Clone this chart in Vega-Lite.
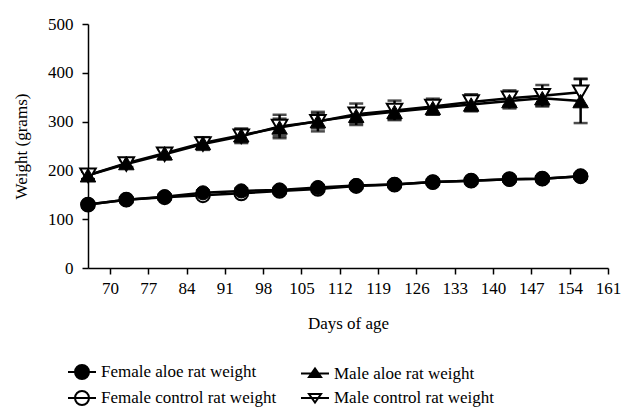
{
"$schema": "https://vega.github.io/schema/vega-lite/v6.json",
"width": 520, "height": 244,
"autosize": "none",
"padding": {"left": 88, "top": 24, "right": 16, "bottom": 143},
"config": {
  "view": {"stroke": null},
  "font": "Liberation Serif",
  "axis": {"grid": false, "domainColor": "black", "domainWidth": 1.5, "tickColor": "black", "tickWidth": 1.5, "tickSize": 6,
    "labelFont": "Liberation Serif", "labelFontSize": 17, "labelColor": "black", "labelOverlap": false, "labelFlush": false,
    "titleFont": "Liberation Serif", "titleFontSize": 17, "titleFontWeight": "normal", "titleColor": "black"},
  "legend": {"labelFont": "Liberation Serif", "labelFontSize": 17, "labelColor": "black", "labelLimit": 400}
},
"data": {"values": [
{"day":66,"group":"Female aloe rat weight","w":130,"err":5},
{"day":73,"group":"Female aloe rat weight","w":140,"err":5},
{"day":80,"group":"Female aloe rat weight","w":146,"err":5},
{"day":87,"group":"Female aloe rat weight","w":154,"err":5},
{"day":94,"group":"Female aloe rat weight","w":158,"err":5},
{"day":101,"group":"Female aloe rat weight","w":160,"err":5},
{"day":108,"group":"Female aloe rat weight","w":165,"err":5},
{"day":115,"group":"Female aloe rat weight","w":169,"err":5},
{"day":122,"group":"Female aloe rat weight","w":171,"err":5},
{"day":129,"group":"Female aloe rat weight","w":176,"err":5},
{"day":136,"group":"Female aloe rat weight","w":179,"err":5},
{"day":143,"group":"Female aloe rat weight","w":182,"err":5},
{"day":149,"group":"Female aloe rat weight","w":183,"err":5},
{"day":156,"group":"Female aloe rat weight","w":188,"err":5},
{"day":66,"group":"Female control rat weight","w":130,"err":5},
{"day":73,"group":"Female control rat weight","w":140,"err":5},
{"day":80,"group":"Female control rat weight","w":145,"err":5},
{"day":87,"group":"Female control rat weight","w":149,"err":5},
{"day":94,"group":"Female control rat weight","w":153,"err":5},
{"day":101,"group":"Female control rat weight","w":158,"err":5},
{"day":108,"group":"Female control rat weight","w":162,"err":5},
{"day":115,"group":"Female control rat weight","w":168,"err":5},
{"day":122,"group":"Female control rat weight","w":171,"err":5},
{"day":129,"group":"Female control rat weight","w":176,"err":5},
{"day":136,"group":"Female control rat weight","w":179,"err":5},
{"day":143,"group":"Female control rat weight","w":182,"err":5},
{"day":149,"group":"Female control rat weight","w":183,"err":5},
{"day":156,"group":"Female control rat weight","w":188,"err":5},
{"day":66,"group":"Male aloe rat weight","w":190,"err":8},
{"day":73,"group":"Male aloe rat weight","w":215,"err":8},
{"day":80,"group":"Male aloe rat weight","w":235,"err":10},
{"day":87,"group":"Male aloe rat weight","w":256,"err":12},
{"day":94,"group":"Male aloe rat weight","w":272,"err":14},
{"day":101,"group":"Male aloe rat weight","w":288,"err":18},
{"day":108,"group":"Male aloe rat weight","w":301,"err":15},
{"day":115,"group":"Male aloe rat weight","w":312,"err":15},
{"day":122,"group":"Male aloe rat weight","w":320,"err":15},
{"day":129,"group":"Male aloe rat weight","w":328,"err":14},
{"day":136,"group":"Male aloe rat weight","w":335,"err":14},
{"day":143,"group":"Male aloe rat weight","w":342,"err":15},
{"day":149,"group":"Male aloe rat weight","w":348,"err":15},
{"day":156,"group":"Male aloe rat weight","w":342,"err":45},
{"day":66,"group":"Male control rat weight","w":190,"err":8},
{"day":73,"group":"Male control rat weight","w":213,"err":8},
{"day":80,"group":"Male control rat weight","w":233,"err":10},
{"day":87,"group":"Male control rat weight","w":254,"err":12},
{"day":94,"group":"Male control rat weight","w":270,"err":14},
{"day":101,"group":"Male control rat weight","w":290,"err":24},
{"day":108,"group":"Male control rat weight","w":300,"err":20},
{"day":115,"group":"Male control rat weight","w":315,"err":22},
{"day":122,"group":"Male control rat weight","w":323,"err":20},
{"day":129,"group":"Male control rat weight","w":331,"err":16},
{"day":136,"group":"Male control rat weight","w":340,"err":16},
{"day":143,"group":"Male control rat weight","w":348,"err":16},
{"day":149,"group":"Male control rat weight","w":353,"err":22},
{"day":156,"group":"Male control rat weight","w":360,"err":28}
]},
"encoding": {
  "x": {"field": "day", "type": "quantitative", "scale": {"domain": [66, 161], "nice": false, "zero": false},
    "axis": {"values": [70,77,84,91,98,105,112,119,126,133,140,147,154,161], "title": "Days of age", "labelPadding": 6, "titlePadding": 19}},
  "y": {"field": "w", "type": "quantitative", "scale": {"domain": [0, 500], "nice": false},
    "axis": {"values": [0,100,200,300,400,500], "title": "Weight (grams)", "labelPadding": 9, "titlePadding": 17}}
},
"layer": [
  {
    "mark": {"type": "point", "opacity": 0, "filled": true, "strokeWidth": 2},
    "encoding": {
      "shape": {"field": "group", "type": "nominal",
        "scale": {"domain": ["Female aloe rat weight","Female control rat weight","Male aloe rat weight","Male control rat weight"],
          "range": ["M-1.4,0H1.4M-0.7,0A0.7,0.7,0,1,1,0.7,0A0.7,0.7,0,1,1,-0.7,0Z",
                    "M-1.4,0H1.4M-0.7,0A0.7,0.7,0,1,1,0.7,0A0.7,0.7,0,1,1,-0.7,0Z",
                    "M-1.4,0H1.4M-0.6,0.35L0.6,0.35L0,-0.5Z",
                    "M-1.4,0H1.4M-0.6,-0.4L0.6,-0.4L0,0.45Z"]},
        "legend": {"title": null, "orient": "none", "legendX": -17, "legendY": 337, "columns": 2, "columnPadding": 20, "rowPadding": 4,
          "symbolSize": 400, "labelOffset": 8, "symbolOpacity": 1, "symbolStrokeWidth": 2, "padding": 0}},
      "fill": {"field": "group", "type": "nominal",
        "scale": {"domain": ["Female aloe rat weight","Female control rat weight","Male aloe rat weight","Male control rat weight"],
          "range": ["black","white","black","white"]},
        "legend": {"title": null, "orient": "none", "legendX": -17, "legendY": 337, "columns": 2, "columnPadding": 20, "rowPadding": 4,
          "symbolSize": 400, "labelOffset": 8, "symbolOpacity": 1, "symbolStrokeWidth": 2, "padding": 0}},
      "stroke": {"field": "group", "type": "nominal",
        "scale": {"domain": ["Female aloe rat weight","Female control rat weight","Male aloe rat weight","Male control rat weight"],
          "range": ["black","black","black","black"]},
        "legend": {"title": null, "orient": "none", "legendX": -17, "legendY": 337, "columns": 2, "columnPadding": 20, "rowPadding": 4,
          "symbolSize": 400, "labelOffset": 8, "symbolOpacity": 1, "symbolStrokeWidth": 2, "padding": 0}}
    }
  },
  {
    "mark": {"type": "errorbar", "color": "black", "thickness": 2.5, "ticks": {"size": 14, "thickness": 2.5, "color": "black"}},
    "encoding": {
      "yError": {"field": "err"},
      "detail": {"field": "group"}
    }
  },
  {
    "mark": {"type": "line", "color": "black", "strokeWidth": 2.5},
    "encoding": {
      "detail": {"field": "group"}
    }
  },
  {
    "transform": [{"filter": "datum.group === 'Female control rat weight'"}],
    "mark": {"type": "point", "shape": "circle", "filled": true, "fill": "white", "stroke": "black", "strokeWidth": 2, "opacity": 1, "size": 190},
    "encoding": {}
  },
  {
    "transform": [{"filter": "datum.group === 'Male control rat weight'"}],
    "mark": {"type": "point", "shape": "triangle-down", "filled": true, "fill": "white", "stroke": "black", "strokeWidth": 2, "opacity": 1, "size": 240},
    "encoding": {}
  },
  {
    "transform": [{"filter": "datum.group === 'Female aloe rat weight'"}],
    "mark": {"type": "point", "shape": "circle", "filled": true, "fill": "black", "stroke": "black", "strokeWidth": 1, "opacity": 1, "size": 200},
    "encoding": {}
  },
  {
    "transform": [{"filter": "datum.group === 'Male aloe rat weight'"}],
    "mark": {"type": "point", "shape": "triangle-up", "filled": true, "fill": "black", "stroke": "black", "strokeWidth": 1, "opacity": 1, "size": 240},
    "encoding": {}
  }
]
}
